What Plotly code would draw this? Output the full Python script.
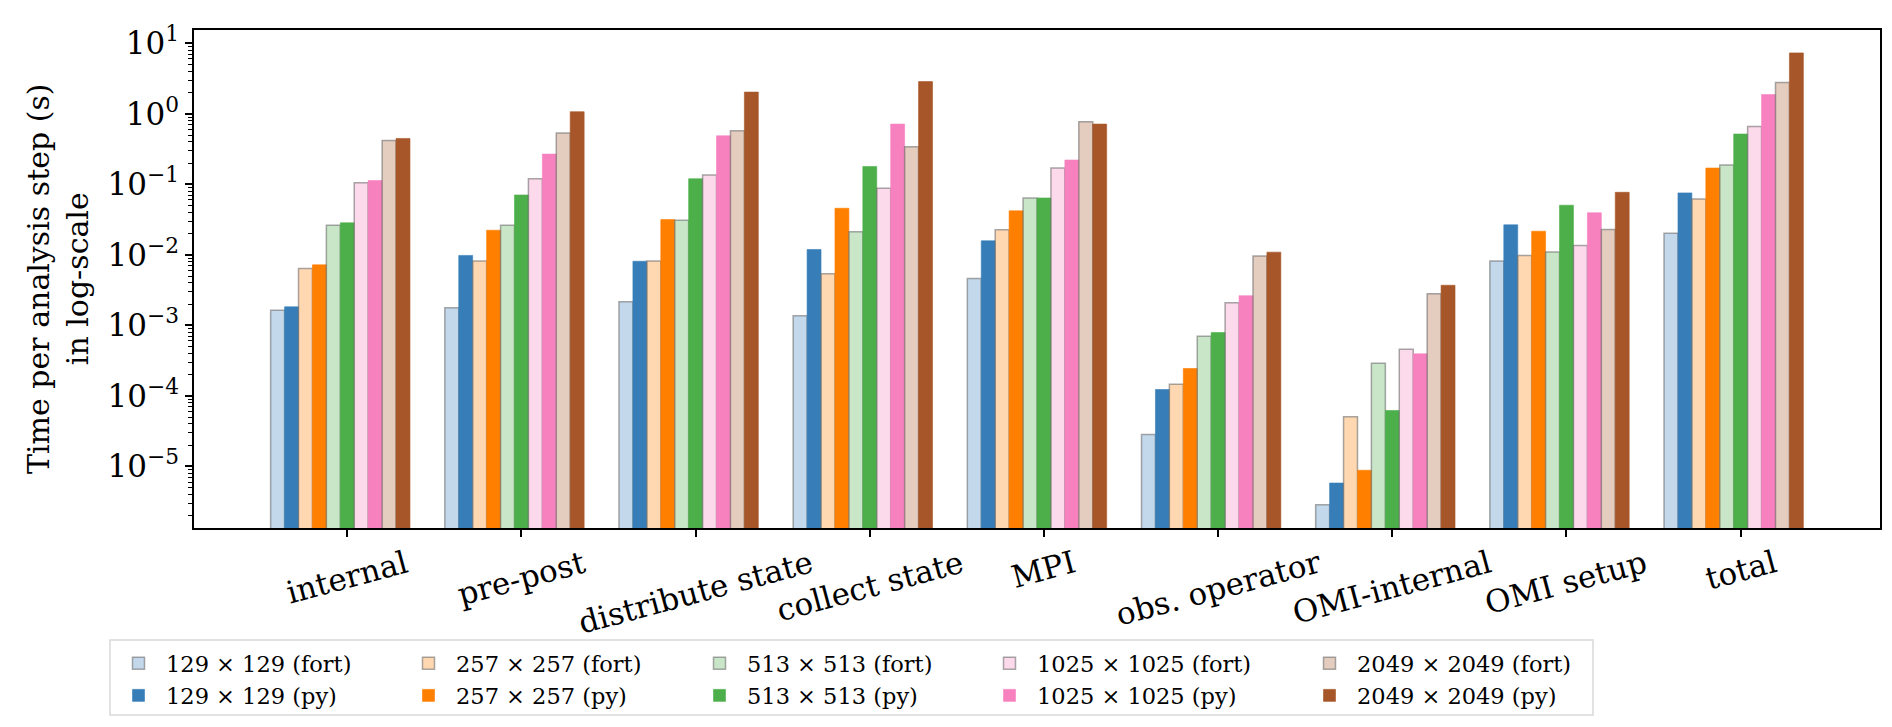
import plotly.graph_objects as go

categories = ["internal", "pre-post", "distribute state", "collect state", "MPI",
              "obs. operator", "OMI-internal", "OMI setup", "total"]

fort_129 = [1.63e-3, 1.78e-3, 2.16e-3, 1.37e-3, 4.6e-3, 2.84e-5, 2.86e-6, 8.2e-3, 0.0203]
py_129 = [1.83e-3, 9.8e-3, 8.1e-3, 0.0119, 0.0158, 1.23e-4, 5.8e-6, 0.0266, 0.0755]
fort_257 = [6.4e-3, 8.2e-3, 8.2e-3, 5.4e-3, 0.0226, 1.46e-4, 5.05e-5, 9.8e-3, 0.062]
py_257 = [7.2e-3, 0.0223, 0.0316, 0.0457, 0.042, 2.44e-4, 8.8e-6, 0.0216, 0.170]
fort_513 = [0.0263, 0.0263, 0.031, 0.0212, 0.064, 7.0e-4, 2.9e-4, 0.011, 0.188]
py_513 = [0.0284, 0.0706, 0.120, 0.179, 0.064, 7.9e-4, 6.2e-5, 0.0505, 0.516]
fort_1025 = [0.105, 0.120, 0.135, 0.0877, 0.170, 2.09e-3, 4.58e-4, 0.0136, 0.661]
py_1025 = [0.113, 0.268, 0.487, 0.714, 0.221, 2.63e-3, 3.94e-4, 0.0394, 1.87]
fort_2049 = [0.419, 0.533, 0.574, 0.341, 0.771, 9.6e-3, 2.8e-3, 0.0229, 2.78]
py_2049 = [0.447, 1.07, 2.03, 2.86, 0.714, 0.0109, 3.7e-3, 0.077, 7.3]

grid_labels = ["129 × 129", "257 × 257", "513 × 513", "1025 × 1025", "2049 × 2049"]
fort_series = [fort_129, fort_257, fort_513, fort_1025, fort_2049]
py_series = [py_129, py_257, py_513, py_1025, py_2049]
base_rgb = [(55, 126, 184), (255, 127, 0), (77, 175, 74), (247, 129, 191), (166, 86, 40)]

tick_vals = [1e-5, 1e-4, 1e-3, 1e-2, 1e-1, 1e0, 1e1]
tick_text = ["10<sup>−5</sup>", "10<sup>−4</sup>", "10<sup>−3</sup>", "10<sup>−2</sup>",
             "10<sup>−1</sup>", "10<sup>0</sup>", "10<sup>1</sup>"]
minor_vals = [m * 10.0 ** e for e in range(-6, 2) for m in range(2, 10)]

FONT = "DejaVu Serif"
BW = 0.08

# layout geometry (pixels)
W, H = 1892, 727
ML, MR, MT, MB = 186, 20, 22, 207
PW, PH = W - ML - MR, H - MT - MB


def px_x(p):
    return (p - ML) / PW


def px_y(p):
    return (H - MB - p) / PH


legend_text_x = [175, 465, 756, 1046, 1366]
legend_names = ["legend", "legend2", "legend3", "legend4", "legend5"]

fig = go.Figure()
for k in range(5):
    r, g, b = base_rgb[k]
    fig.add_trace(go.Bar(
        x=categories, y=fort_series[k], name=f"{grid_labels[k]} (fort)",
        width=BW, offset=(2 * k - 5) * BW - BW / 2, legend=legend_names[k],
        marker=dict(color=f"rgba({r},{g},{b},0.3)",
                    line=dict(color="rgba(110,110,110,0.6)", width=1.5)),
    ))
    fig.add_trace(go.Bar(
        x=categories, y=py_series[k], name=f"{grid_labels[k]} (py)",
        width=BW, offset=(2 * k + 1 - 5) * BW - BW / 2, legend=legend_names[k],
        marker=dict(color=f"rgb({r},{g},{b})",
                    line=dict(color=f"rgba({r},{g},{b},0.6)", width=1)),
    ))

annotations = []
for c in categories:
    annotations.append(dict(
        x=c, xref="x", y=0, yref="paper", yanchor="top", xanchor="center",
        yshift=-13, text=c, textangle=-15, showarrow=False,
        font=dict(family=FONT, size=31, color="black"),
    ))
annotations.append(dict(
    x=0, xref="paper", y=0.5, yref="paper", xanchor="center", yanchor="middle",
    xshift=-136, text="Time per analysis step (s)<br>in log-scale", textangle=-90,
    showarrow=False, font=dict(family=FONT, size=30, color="black"),
))

legend_cfg = {}
for k, name in enumerate(legend_names):
    legend_cfg[name] = dict(
        orientation="v", x=px_x(legend_text_x[k] - 72), y=px_y(634),
        xanchor="left", yanchor="top",
        font=dict(family=FONT, size=22.5, color="black"),
        bgcolor="rgba(0,0,0,0)", borderwidth=0, itemwidth=45,
        traceorder="normal", tracegroupgap=0,
    )

fig.update_layout(
    width=W, height=H,
    margin=dict(l=ML, r=MR, t=MT, b=MB),
    paper_bgcolor="white", plot_bgcolor="white",
    barmode="overlay",
    font=dict(family=FONT, size=30, color="black"),
    showlegend=True,
    annotations=annotations,
    shapes=[dict(type="rect", xref="paper", yref="paper",
                 x0=px_x(102), x1=px_x(1585), y0=px_y(707), y1=px_y(632),
                 line=dict(color="#d9d9d9", width=1.5), fillcolor="rgba(0,0,0,0)",
                 layer="below")],
    **legend_cfg,
)
fig.update_xaxes(
    type="category", range=[-0.88, 8.80],
    showticklabels=False, ticks="outside", ticklen=7, tickwidth=1.5, tickcolor="black",
    showline=True, linecolor="black", linewidth=1.5, mirror=True,
    showgrid=False, zeroline=False,
)
fig.update_yaxes(
    type="log", range=[-5.874, 1.188],
    tickmode="array", tickvals=tick_vals, ticktext=tick_text,
    ticks="outside", ticklen=7, tickwidth=1.5, tickcolor="black",
    minor=dict(tickmode="array", tickvals=minor_vals, ticks="outside", ticklen=4,
               tickwidth=1, tickcolor="black", showgrid=False),
    showline=True, linecolor="black", linewidth=1.5, mirror=True,
    showgrid=False, zeroline=False,
    tickfont=dict(family=FONT, size=31, color="black"),
)

fig.write_html("out.html")
